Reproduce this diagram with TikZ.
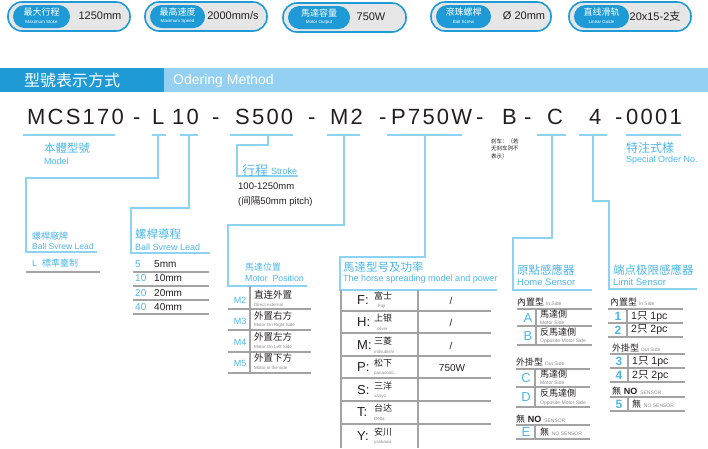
\documentclass[tikz,border=0pt]{standalone}
\usepackage{fontspec}
\setmainfont{Liberation Sans}
\newfontfamily\cjk{Noto Sans CJK SC}
\newfontfamily\codefont[LetterSpace=10]{Liberation Sans}
\definecolor{bblue}{HTML}{1E9AD6}
\definecolor{hlight}{HTML}{93D0F1}
\definecolor{lblue}{HTML}{8CD2F3}
\definecolor{tblue}{HTML}{4DB6E8}
\definecolor{tgray}{HTML}{A3A3A3}
\definecolor{dark}{HTML}{231F20}
\definecolor{pillbg}{HTML}{E6E6E6}
\definecolor{sgray}{HTML}{8A8A8A}
\newcommand\fsz[1]{\fontsize{#1}{#1}\selectfont}
\tikzset{
  badge/.style={draw=bblue, line width=1.6, fill=pillbg, rounded corners=14},
  pill/.style={fill=bblue, rounded corners=11.5},
  cw/.style={inner sep=0, text=white},
  val/.style={inner sep=0, text=dark, font=\fsz{11}},
  code/.style={inner sep=0, anchor=base west, text=dark, font=\codefont\fsz{22}},
  uline/.style={draw=lblue, line width=1.1},
  conn/.style={draw=lblue, line width=1.1},
  tline/.style={draw=tgray, line width=1.1},
  lbl/.style={inner sep=0, anchor=west, text=tblue},
  dlbl/.style={inner sep=0, anchor=west, text=dark},
  glbl/.style={inner sep=0, anchor=west, text=sgray},
  ctr/.style={inner sep=0, text=dark},
  bletter/.style={inner sep=0, text=tblue},
}
\begin{document}
\begin{tikzpicture}[x=1pt,y=-1pt]
\useasboundingbox (0,0) rectangle (708,448);
% ---------- badges
\draw[badge] (8,2) rectangle (130,31);
\fill[pill] (13,5) rectangle (70,28);
\node[cw] (b1c) at (41.5,12) {\cjk\fsz{9}最大行程};
\node[cw] (b1e) at (41.5,21.5) {\fsz{4.5}Maximum Stoke};
\node[val] (b1v) at (100,16) {1250mm};
\draw[badge] (145,2) rectangle (267,31);
\fill[pill] (150,5) rectangle (205,28);
\node[cw] (b2c) at (177.5,12) {\cjk\fsz{9}最高速度};
\node[cw] (b2e) at (177.5,21.5) {\fsz{4.5}Maximum Speed};
\node[val] (b2v) at (233,16) {2000mm/s};
\draw[badge] (283,3) rectangle (406,32);
\fill[pill] (288,6) rectangle (350,29);
\node[cw] (b3c) at (319,13) {\cjk\fsz{9}馬達容量};
\node[cw] (b3e) at (319,22.5) {\fsz{4.5}Motor Output};
\node[val] (b3v) at (371,17) {750W};
\draw[badge] (431,2) rectangle (551,31);
\fill[pill] (436,5) rectangle (491,28);
\node[cw] (b4c) at (463.5,12) {\cjk\fsz{9}滾珠螺桿};
\node[cw] (b4e) at (463.5,21.5) {\fsz{4.5}Ball Screw};
\node[val] (b4v) at (524,16) {Ø 20mm};
\draw[badge] (569,2) rectangle (691,31);
\fill[pill] (574,5) rectangle (629,28);
\node[cw] (b5c) at (601.5,12) {\cjk\fsz{9}直线滑轨};
\node[cw] (b5e) at (601.5,21.5) {\fsz{4.5}Linear Guide};
\node[val] (b5v) at (655,16) {20x15-2{\cjk 支}};
% ---------- header bar
\fill[bblue] (0,68) rectangle (164,92);
\fill[hlight] (164,68) rectangle (708,92);
\node[cw] (h1) at (72,80) {\cjk\fsz{16}型號表示方式};
\node[cw, anchor=west] (h2) at (173,80.5) {\fsz{14}Odering Method};
% ---------- code line
\node[code] (cMCS) at (27,124) {MCS170};
\node[code] (d1) at (133,124) {-};
\node[code] (cL) at (152,124) {L};
\node[code] (c10) at (172,124) {10};
\node[code] (d2) at (212,124) {-};
\node[code] (cS) at (235,124) {S500};
\node[code] (d3) at (308,124) {-};
\node[code] (cM2) at (330,124) {M2};
\node[code] (d4) at (379,124) {-};
\node[code] (cP) at (391,124) {P750W};
\node[code] (d5) at (476,124) {-};
\node[code] (cB) at (502,124) {B};
\node[code] (d6) at (524,124) {-};
\node[code] (cC) at (547,124) {C};
\node[code] (c4) at (589,124) {4};
\node[code] (d7) at (615,124) {-};
\node[code] (c0) at (626,124) {0001};
% underlines
\draw[uline] (23,135) -- (115,135);
\draw[uline] (152,135) -- (166,135);
\draw[uline] (180,135) -- (198,135);
\draw[uline] (230,135) -- (293,135);
\draw[uline] (327,135) -- (360,135);
\draw[uline] (387,135) -- (462,135);
\draw[uline] (537,135) -- (566,135);
\draw[uline] (579,135) -- (607,135);
\draw[uline] (626,135) -- (681,135);
\coordinate (uL) at (158,135);
\coordinate (u10) at (189,135);
\coordinate (uS) at (268,135);
\coordinate (uM) at (344,135);
\coordinate (uP) at (425,135);
\coordinate (uC) at (552,135);
\coordinate (u4) at (593,135);
% ---------- model
\node[lbl] (mcn) at (44,148) {\cjk\fsz{11.5}本體型號};
\node[lbl] (men) at (44,161) {\fsz{9}Model};
% ---------- brake note
\node[dlbl] (br1) at (491,141) {\cjk\fsz{5.5}刹车：（若};
\node[dlbl] (br2) at (491,148.5) {\cjk\fsz{5.5}无刹车则不};
\node[dlbl] (br3) at (491,156) {\cjk\fsz{5.5}表示）};
% ---------- special order
\node[lbl] (spc) at (626,148) {\cjk\fsz{12}特注式樣};
\node[lbl] (spe) at (626,160) {\fsz{9}Special Order No.};
% ---------- L : screw brand
\draw[conn] (uL) -- (158,178) -- (26,178) -- (26,252) -- (97,252);
\node[lbl] (lbc) at (32,236) {\cjk\fsz{9}螺桿廠牌};
\node[lbl] (lbe) at (32,246.5) {\fsz{8.5}Ball Svrew Lead};
\node[lbl] (lbL) at (32,263) {\fsz{9}L};
\node[lbl] (lbT) at (42,263) {\cjk\fsz{9}標準臺制};
\draw[tline] (26,272) -- (100,272);
% ---------- 10 : lead
\draw[conn] (u10) -- (189,208) -- (131,208) -- (131,253) -- (210,253);
\node[lbl] (ldc) at (135,234.5) {\cjk\fsz{11.5}螺桿導程};
\node[lbl] (lde) at (135,247) {\fsz{9}Ball Svrew Lead};
\node[lbl] (l5n) at (135,264) {\fsz{10}5};
\node[dlbl] (l5v) at (154,264) {\fsz{10}5mm};
\node[lbl] (l10n) at (135,278.5) {\fsz{10}10};
\node[dlbl] (l10v) at (154,278.5) {\fsz{10}10mm};
\node[lbl] (l20n) at (135,293) {\fsz{10}20};
\node[dlbl] (l20v) at (154,293) {\fsz{10}20mm};
\node[lbl] (l40n) at (135,307) {\fsz{10}40};
\node[dlbl] (l40v) at (154,307) {\fsz{10}40mm};
\draw[tline] (133,272) -- (209,272);
\draw[tline] (133,286) -- (209,286);
\draw[tline] (133,300) -- (209,300);
\draw[tline] (133,314) -- (209,314);
% ---------- S500 : stroke
\draw[conn] (uS) -- (268,145) -- (237,145) -- (237,176) -- (298,176);
\node[lbl] (stc) at (242,170.5) {\cjk\fsz{13}行程};
\node[lbl] (ste) at (271,171.5) {\fsz{9}Stroke};
\node[dlbl] (st1) at (238,186) {\fsz{9.5}100-1250mm};
\node[dlbl] (st2) at (238,202) {\fsz{9.5}({\cjk 间隔}50mm pitch)};
% ---------- M2 : motor position
\draw[conn] (uM) -- (344,225) -- (228,225) -- (228,286) -- (307,286);
\node[lbl] (mpc) at (245,267.5) {\cjk\fsz{9}馬達位置};
\node[lbl] (mpe) at (245,278.5) {\fsz{8.8}Motor\ \ Position};
\draw[tline] (250,286) -- (250,373);
\draw[tline] (228,309) -- (311,309);
\draw[tline] (228,330) -- (311,330);
\draw[tline] (228,352) -- (311,352);
\draw[tline] (228,373) -- (311,373);
\node[bletter] (mp2) at (240,300) {\fsz{9}M2};
\node[bletter] (mp3) at (240,321) {\fsz{9}M3};
\node[bletter] (mp4) at (240,342) {\fsz{9}M4};
\node[bletter] (mp5) at (240,363) {\fsz{9}M5};
\node[dlbl] (mp2c) at (254,295) {\cjk\fsz{9.5}直连外置};
\node[glbl] (mp2e) at (254,304.5) {\fsz{4.5}Direct external};
\node[dlbl] (mp3c) at (254,316) {\cjk\fsz{9.5}外置右方};
\node[glbl] (mp3e) at (254,325.5) {\fsz{4.5}Motor\ On\ Right\ Side};
\node[dlbl] (mp4c) at (254,337) {\cjk\fsz{9.5}外置左方};
\node[glbl] (mp4e) at (254,346.5) {\fsz{4.5}Motor\ On\ Left\ Side};
\node[dlbl] (mp5c) at (254,358) {\cjk\fsz{9.5}外置下方};
\node[glbl] (mp5e) at (254,367.5) {\fsz{4.5}Motor in the side};
% ---------- P750W : motor model and power
\draw[conn] (uP) -- (425,257) -- (340,257) -- (340,290) -- (497,290);
\node[lbl] (hpc) at (343,267) {\cjk\fsz{11.5}馬達型号及功率};
\node[lbl] (hpe) at (343,279) {\fsz{9}The horse spreading model and power};
\draw[tline] (341,290) -- (341,448);
\draw[tline] (418,290) -- (418,448);
\foreach \yy in {311,333,356,378,401,424} { \draw[tline] (341,\yy) -- (491,\yy); }
\node[dlbl] (pF) at (357,300) {\fsz{13}F:};
\node[dlbl] (pFc) at (374,296) {\cjk\fsz{9}富士};
\node[glbl] (pFe) at (378,306.5) {\fsz{4.5}Fuji};
\node[ctr] (pFv) at (451,301) {\fsz{10}/};
\node[dlbl] (pH) at (357,322) {\fsz{13}H:};
\node[dlbl] (pHc) at (374,318) {\cjk\fsz{9}上银};
\node[glbl] (pHe) at (377,328.5) {\fsz{4.5}silver};
\node[ctr] (pHv) at (451,323) {\fsz{10}/};
\node[dlbl] (pM) at (357,345) {\fsz{13}M:};
\node[dlbl] (pMc) at (374,341) {\cjk\fsz{9}三菱};
\node[glbl] (pMe) at (374,351.5) {\fsz{4.5}mitsubishi};
\node[ctr] (pMv) at (451,346) {\fsz{10}/};
\node[dlbl] (pP) at (357,367) {\fsz{13}P:};
\node[dlbl] (pPc) at (374,363) {\cjk\fsz{9}松下};
\node[glbl] (pPe) at (374,373.5) {\fsz{4.5}panasonic};
\node[ctr] (pPv) at (452,368) {\fsz{10}750W};
\node[dlbl] (pS) at (357,390) {\fsz{13}S:};
\node[dlbl] (pSc) at (374,386) {\cjk\fsz{9}三洋};
\node[glbl] (pSe) at (374,396.5) {\fsz{4.5}sanyo};
\node[dlbl] (pT) at (357,412) {\fsz{13}T:};
\node[dlbl] (pTc) at (374,408) {\cjk\fsz{9}台达};
\node[glbl] (pTe) at (374,418.5) {\fsz{4.5}Delta};
\node[dlbl] (pY) at (357,436) {\fsz{13}Y:};
\node[dlbl] (pYc) at (374,432) {\cjk\fsz{9}安川};
\node[glbl] (pYe) at (374,442.5) {\fsz{4.5}yaskawa};
% ---------- C : home sensor
\draw[conn] (uC) -- (552,238) -- (513,238) -- (513,290) -- (592,290);
\node[lbl] (hsc) at (517,270.5) {\cjk\fsz{11.5}原點感應器};
\node[lbl] (hse) at (517,282.5) {\fsz{9.5}Home Sensor};
\node[dlbl] (hsi) at (517,302) {{\cjk\fsz{9}內置型}\,{\fsz{5}\color{sgray}In Side}};
\draw[tline] (517,309) -- (592,309);
\draw[tline] (517,326) -- (592,326);
\draw[tline] (517,345) -- (592,345);
\draw[tline] (536,309) -- (536,345);
\node[bletter] (hsA) at (528,318) {\fsz{13}A};
\node[dlbl] (hsAc) at (540,314.5) {\cjk\fsz{9}馬達側};
\node[glbl] (hsAe) at (540,323) {\fsz{5}Motor Side};
\node[bletter] (hsB) at (528,336) {\fsz{13}B};
\node[dlbl] (hsBc) at (540,332) {\cjk\fsz{9}反馬達側};
\node[glbl] (hsBe) at (540,341) {\fsz{5}Opposite Motor Side};
\node[dlbl] (hso) at (516,362) {{\cjk\fsz{9}外掛型}\,{\fsz{5}\color{sgray}Out Side}};
\draw[tline] (516,369) -- (590,369);
\draw[tline] (516,387) -- (590,387);
\draw[tline] (516,407) -- (590,407);
\draw[tline] (535,369) -- (535,407);
\node[bletter] (hsC) at (526,378) {\fsz{13}C};
\node[dlbl] (hsCc) at (540,374.5) {\cjk\fsz{9}馬達側};
\node[glbl] (hsCe) at (540,383) {\fsz{5}Motor Side};
\node[bletter] (hsD) at (526,397) {\fsz{13}D};
\node[dlbl] (hsDc) at (540,393) {\cjk\fsz{9}反馬達側};
\node[glbl] (hsDe) at (540,403) {\fsz{5}Opposite Motor Side};
\node[dlbl] (hsn) at (516,419) {{\cjk\fsz{9}無} {\fsz{9}\bfseries NO} {\fsz{5}\color{sgray}SENSOR}};
\draw[tline] (516,425) -- (590,425);
\draw[tline] (516,439) -- (590,439);
\draw[tline] (535,425) -- (535,439);
\node[bletter] (hsE) at (526,432) {\fsz{13}E};
\node[dlbl] (hsEc) at (540,432) {{\cjk\fsz{9}無} {\fsz{5}\color{sgray}NO SENSOR}};
% ---------- 4 : limit sensor
\draw[conn] (u4) -- (593,201) -- (609,201) -- (609,289) -- (697,289);
\node[lbl] (lsc) at (613,270.5) {\cjk\fsz{11.5}端点极限感應器};
\node[lbl] (lse) at (613,282.5) {\fsz{9.5}Limit Sensor};
\node[dlbl] (lsi) at (610,302) {{\cjk\fsz{9}內置型}\,{\fsz{5}\color{sgray}In Side}};
\draw[tline] (608,309) -- (683,309);
\draw[tline] (608,323) -- (683,323);
\draw[tline] (608,337) -- (683,337);
\draw[tline] (627,309) -- (627,337);
\node[bletter] (ls1) at (618,316.5) {\fsz{12}\bfseries 1};
\node[dlbl] (ls1v) at (631,316.5) {\fsz{10.5}1{\cjk 只} 1pc};
\node[bletter] (ls2) at (618,330) {\fsz{12}\bfseries 2};
\node[dlbl] (ls2v) at (631,330) {\fsz{10.5}2{\cjk 只} 2pc};
\node[dlbl] (lso) at (612,348) {{\cjk\fsz{9}外掛型}\,{\fsz{5}\color{sgray}Out Side}};
\draw[tline] (610,354) -- (685,354);
\draw[tline] (610,368) -- (685,368);
\draw[tline] (610,382) -- (685,382);
\draw[tline] (628,354) -- (628,382);
\node[bletter] (ls3) at (619,361.5) {\fsz{12}\bfseries 3};
\node[dlbl] (ls3v) at (632,361.5) {\fsz{10.5}1{\cjk 只} 1pc};
\node[bletter] (ls4) at (619,375.5) {\fsz{12}\bfseries 4};
\node[dlbl] (ls4v) at (632,375.5) {\fsz{10.5}2{\cjk 只} 2pc};
\node[dlbl] (lsn) at (612,391.5) {{\cjk\fsz{9}無} {\fsz{9}\bfseries NO} {\fsz{5}\color{sgray}SENSOR}};
\draw[tline] (610,397) -- (685,397);
\draw[tline] (610,411) -- (685,411);
\draw[tline] (628,397) -- (628,411);
\node[bletter] (ls5) at (619,404) {\fsz{12}\bfseries 5};
\node[dlbl] (ls5v) at (632,404) {{\cjk\fsz{9}無} {\fsz{5}\color{sgray}NO SENSOR}};
\end{tikzpicture}
\end{document}
